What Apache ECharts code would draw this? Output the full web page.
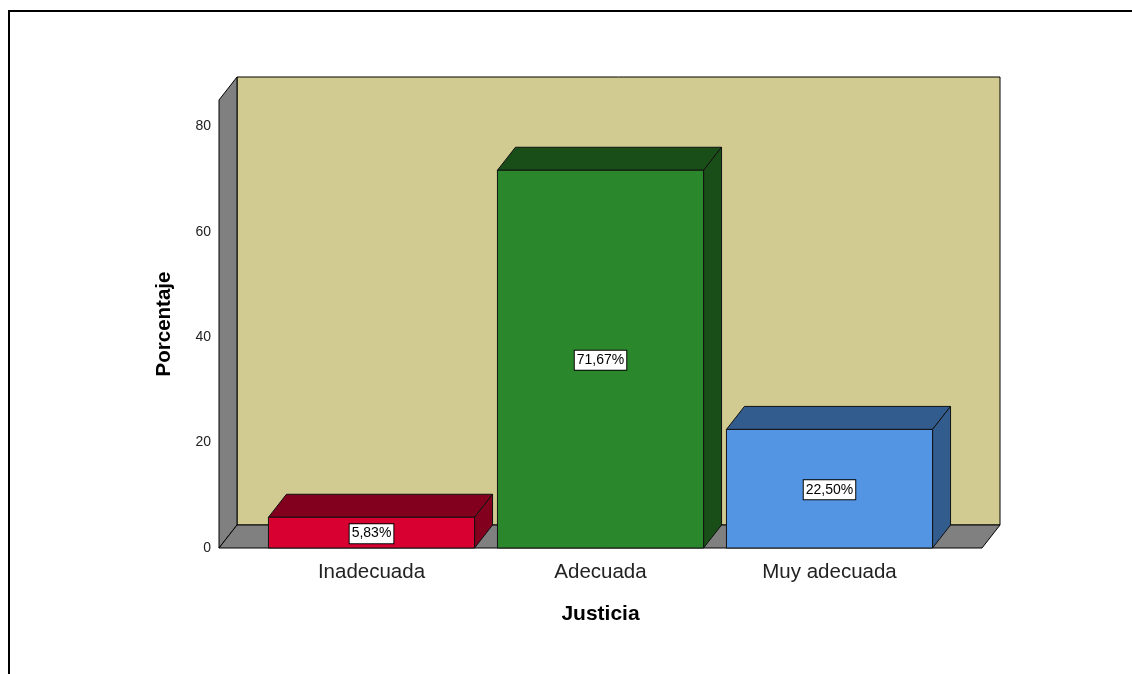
<!DOCTYPE html>
<html>
<head>
<meta charset="utf-8">
<script src="https://cdn.jsdelivr.net/npm/echarts@6/dist/echarts.min.js"></script>
<style>
html,body{margin:0;padding:0;background:#fff}
#main{width:1132px;height:674px}
</style>
</head>
<body>
<div id="main"></div>
<script>
var categorias = ['Inadecuada', 'Adecuada', 'Muy adecuada']
var porcentajes = [5.83, 71.67, 22.50]
var etiquetas = ['5,83%', '71,67%', '22,50%']
var yTicks = [0, 20, 40, 60, 80]

var frente = ['#D80031', '#2A872B', '#5495E3']
var oscuro = ['#82001E', '#1A4E18', '#335C8E']

var dx = 18, dy = -23, borde = 38

var chart = echarts.init(document.getElementById('main'))

function paredes(params, api) {
	var cs = params.coordSys
	var x0 = cs.x - borde, x1 = cs.x + cs.width + borde
	var yt = cs.y, yb = cs.y + cs.height
	var ln = { stroke: '#000', lineWidth: 1 }
	return {
		type: 'group',
		children: [
			{ type: 'rect', shape: { x: x0 + dx, y: yt + dy, width: x1 - x0, height: yb - yt },
				style: Object.assign({ fill: '#D1CB92' }, ln) },
			{ type: 'polygon', shape: { points: [[x0, yt], [x0 + dx, yt + dy], [x0 + dx, yb + dy], [x0, yb]] },
				style: Object.assign({ fill: '#808080' }, ln) },
			{ type: 'polygon', shape: { points: [[x0, yb], [x1, yb], [x1 + dx, yb + dy], [x0 + dx, yb + dy]] },
				style: Object.assign({ fill: '#808080' }, ln) }
		]
	}
}

function barras(params, api) {
	var i = params.dataIndex
	var base = api.coord([api.value(0), 0])
	var top = api.coord([api.value(0), api.value(1)])
	var w = api.size([1, 0])[0] * 0.9
	var xl = base[0] - w / 2, xr = base[0] + w / 2
	var yt = top[1], yb = base[1]
	var ln = { stroke: '#111', lineWidth: 1 }
	return {
		type: 'group',
		children: [
			{ type: 'polygon', shape: { points: [[xl, yt], [xr, yt], [xr + dx, yt + dy], [xl + dx, yt + dy]] },
				style: Object.assign({ fill: oscuro[i] }, ln) },
			{ type: 'polygon', shape: { points: [[xr, yt], [xr + dx, yt + dy], [xr + dx, yb + dy], [xr, yb]] },
				style: Object.assign({ fill: oscuro[i] }, ln) },
			{ type: 'rect', shape: { x: xl, y: yt, width: w, height: yb - yt },
				style: Object.assign({ fill: frente[i] }, ln) },
			{ type: 'text', x: base[0], y: (yt + yb) / 2 + 1,
				style: { text: etiquetas[i], fill: '#000', fontSize: 14, fontFamily: 'Liberation Sans, Arial',
					align: 'center', verticalAlign: 'middle', backgroundColor: '#fff',
					borderColor: '#000', borderWidth: 1, padding: [3, 2, 2, 2] } }
		]
	}
}

chart.setOption({
	animation: false,
	backgroundColor: '#fff',
	graphic: [{
		type: 'polyline',
		shape: { points: [[9, 674], [9, 11], [1132, 11]] },
		style: { stroke: '#000', lineWidth: 2, fill: null }
	}],
	grid: { left: 257, right: 188, top: 100, bottom: 126 },
	xAxis: {
		type: 'category',
		data: categorias,
		name: 'Justicia',
		nameLocation: 'middle',
		nameGap: 56,
		nameTextStyle: { fontSize: 21, fontWeight: 'bold', color: '#000', fontFamily: 'Liberation Sans, Arial' },
		axisLine: { show: false },
		axisTick: { show: false },
		axisLabel: { fontSize: 20.5, color: '#222', margin: 14, fontFamily: 'Liberation Sans, Arial' }
	},
	yAxis: {
		type: 'value',
		min: 0,
		max: 85,
		interval: 20,
		offset: borde,
		name: 'Porcentaje',
		nameLocation: 'middle',
		nameGap: 44,
		nameTextStyle: { fontSize: 20.5, fontWeight: 'bold', color: '#000', fontFamily: 'Liberation Sans, Arial' },
		axisLine: { show: false },
		axisTick: { show: false },
		splitLine: { show: false },
		axisLabel: {
			fontSize: 14, color: '#222', margin: 8, fontFamily: 'Liberation Sans, Arial',
			formatter: function (v) { return yTicks.indexOf(v) >= 0 ? String(v) : '' }
		}
	},
	series: [
		{ type: 'custom', name: 'fondo', clip: false, silent: true, data: [[0, 0]], renderItem: paredes, z: 1 },
		{ type: 'custom', name: 'Porcentaje', clip: false, z: 2,
			data: porcentajes.map(function (v, i) { return [i, v] }), renderItem: barras }
	]
})
</script>
</body>
</html>
